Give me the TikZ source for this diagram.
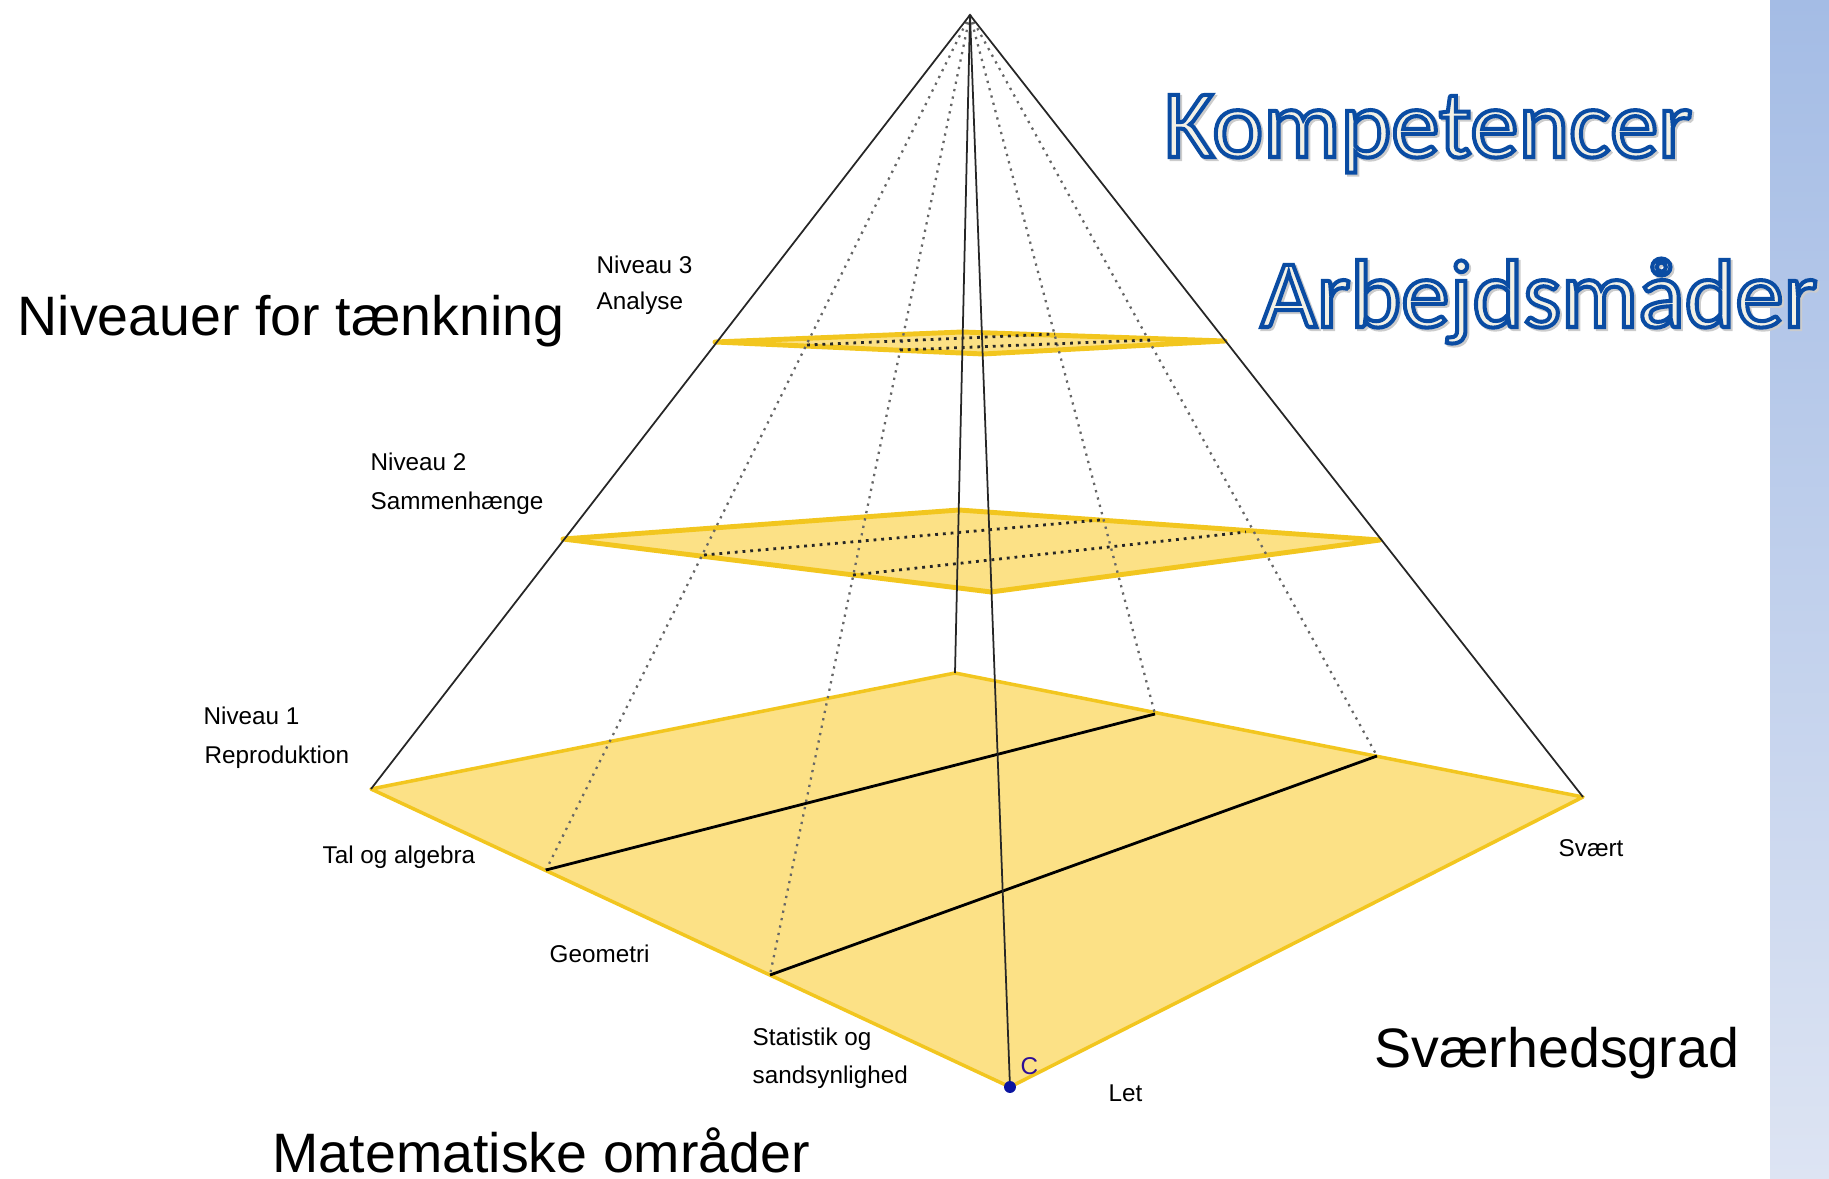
\documentclass[tikz,border=0pt]{standalone}
\usepackage{fontspec}
\setmainfont{Liberation Sans}
\newfontfamily\calib{Carlito}
\usetikzlibrary{positioning}

\definecolor{gold}{HTML}{F2C61F}
\definecolor{paleyellow}{HTML}{FCE186}
\definecolor{cream}{HTML}{F3F1E6}
\definecolor{barblue}{HTML}{A4BCE5}
\definecolor{barlight}{HTML}{DDE4F3}
\definecolor{pointblue}{HTML}{0A14A0}

% stroked + filled letters (text render mode 2)
\newcommand{\outlined}[2]{\special{pdf:literal direct 2 Tr 1.15 w #1 RG}#2\special{pdf:literal direct 0 Tr}}

\tikzset{
  edge/.style={draw=black!85, line width=0.5pt},
  hidden/.style={draw=black!60, line width=0.65pt, dash pattern=on 0.65pt off 1.5pt},
  layer/.style={fill=paleyellow, draw=gold, line width=1pt, line join=round},
  small/.style={font=\fontsize{6.9}{10.5}\selectfont, inner sep=0pt, anchor=base west},
  big/.style={font=\fontsize{15.8}{19}\selectfont, inner sep=0pt, anchor=base west},
  title/.style={font=\calib\fontsize{27.5}{33}\selectfont, inner sep=0pt, anchor=base west, text=cream}
}

\begin{document}
\begin{tikzpicture}[x=0.01cm, y=-0.01cm]
    \useasboundingbox (0,0) rectangle (1829,1179);
    \shade[top color=barblue, bottom color=barlight] (1770,0) rectangle (1829,1179);

    \coordinate (top) at (970, 15);
    % level 1
    \coordinate (l1L) at (371, 789);
    \coordinate (l1B) at (955, 673);
    \coordinate (l1R) at (1583, 797);
    \coordinate (l1F) at (1010, 1087);
    % level 2
    \coordinate (l2L) at (563, 539);
    \coordinate (l2B) at (959, 510);
    \coordinate (l2R) at (1380, 540);
    \coordinate (l2F) at (991, 592);
    % level 3
    \coordinate (l3L) at (715, 342);
    \coordinate (l3B) at (962, 332);
    \coordinate (l3R) at (1225, 341);
    \coordinate (l3F) at (983, 354);
    % divisions
    \coordinate (tal) at (546, 870);
    \coordinate (geo) at (770, 975);
    \coordinate (b1) at (1155, 714);
    \coordinate (b2) at (1377, 756);
    \coordinate (l2a) at (704, 555);
    \coordinate (l2b) at (853, 575);
    \coordinate (l2c) at (1100, 520);
    \coordinate (l2d) at (1246, 532);
    \coordinate (l3a) at (807, 345);
    \coordinate (l3b) at (900, 350);
    \coordinate (l3c) at (1055, 334);
    \coordinate (l3d) at (1150, 340);

    \draw[layer] (l1L) -- (l1B) -- (l1R) -- (l1F) -- cycle;
    \draw[layer, line width=1.4pt] (l2L) -- (l2B) -- (l2R) -- (l2F) -- cycle;
    \draw[layer, line width=1.4pt] (l3L) -- (l3B) -- (l3R) -- (l3F) -- cycle;

    \draw[hidden] (top) -- (tal) (top) -- (geo) (top) -- (b1) (top) -- (b2);
    \draw[hidden, draw=black!85, line width=0.8pt, dash pattern=on 0.8pt off 1.4pt] (l2a) -- (l2c) (l2b) -- (l2d) (l3a) -- (l3c) (l3b) -- (l3d);
    \draw[black, line width=0.8pt] (tal) -- (b1) (geo) -- (b2);

    \draw[edge] (l1L) -- (top) -- (l1R);
    \draw[edge] (top) -- (l1B);
    \draw[edge] (top) -- (l1F);
    \fill[pointblue] (l1F) circle[radius=1.7pt];

    \node[small] (niv3) at (596, 274) {Niveau 3};
    \node[small] (ana) at (596, 310) {Analyse};
    \node[small] (niv2) at (370, 471) {Niveau 2};
    \node[small] (sam) at (370, 509) {Sammenhænge};
    \node[small] (niv1) at (203, 724) {Niveau 1};
    \node[small] (rep) at (204, 763) {Reproduktion};
    \node[small] (talalg) at (322, 863) {Tal og algebra};
    \node[small] (geomet) at (549, 962) {Geometri};
    \node[small] (stat) at (752, 1045) {Statistik og};
    \node[small] (sand) at (752, 1083) {sandsynlighed};
    \node[small] (let) at (1108, 1101) {Let};
    \node[small] (svaert) at (1558, 856) {Svært};
    \node[small, text=pointblue!70!violet] (clab) at (1020, 1074) {C};

    \node[big] (thinking) at (17, 336) {Niveauer for tænkning};
    \node[big] (areas) at (272, 1172) {Matematiske områder};
    \node[big] (degree) at (1374, 1067) {Sværhedsgrad};

    \node[title, text=black!22] (kompshadow) at (1165, 159) {\outlined{0.8 0.8 0.8}{Kompetencer}};
    \node[title, text=black!22] (arbshadow) at (1262, 329) {\outlined{0.8 0.8 0.8}{Arbejdsmåder}};
    \node[title] (komp) at (1163, 157) {\outlined{0.04 0.3 0.64}{Kompetencer}};
    \node[title] (arb) at (1260, 327) {\outlined{0.04 0.3 0.64}{Arbejdsmåder}};
\end{tikzpicture}
\end{document}
